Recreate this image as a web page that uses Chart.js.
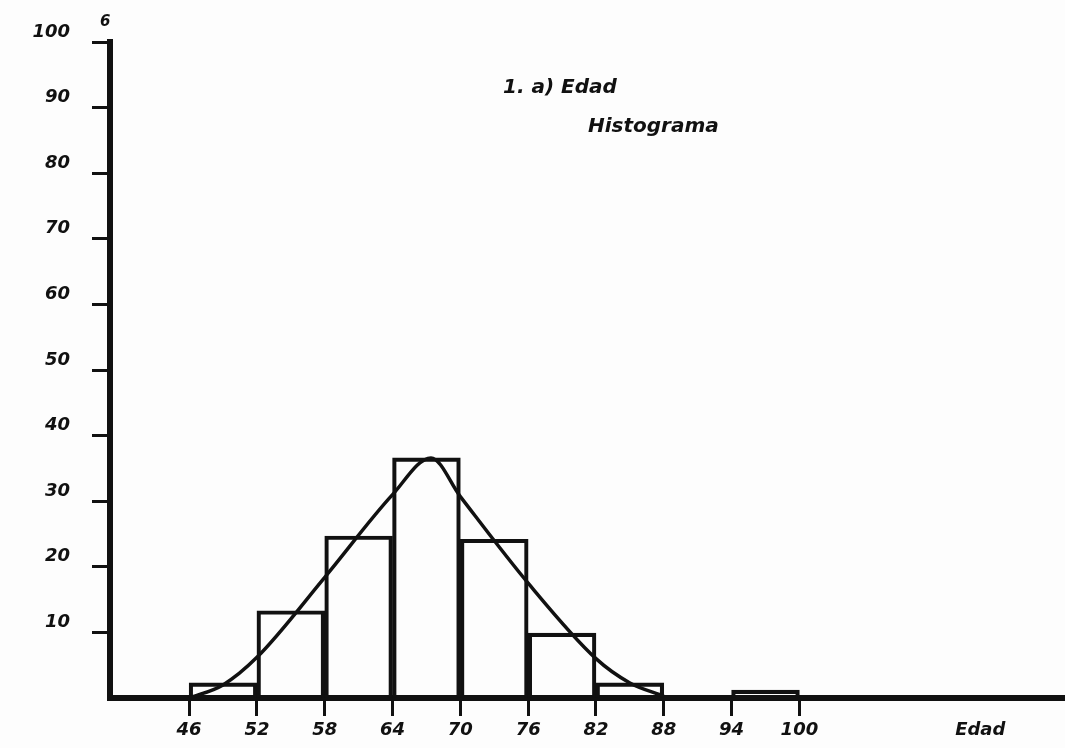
<!DOCTYPE html>
<html>
<head>
<meta charset="utf-8">
<script src="https://cdn.jsdelivr.net/npm/chart.js@4"></script>
<style>
  html, body { margin: 0; padding: 0; background: #fdfdfd; }
  #wrap { width: 1065px; height: 748px; }
</style>
</head>
<body>
<div id="wrap"><canvas id="hist"></canvas></div>
<script>
// histogram bins (class start, width 6) and frequencies
const binStarts = [46, 52, 58, 64, 70, 76, 82, 88, 94];
const frequencies = [2.3, 13.3, 24.7, 36.6, 24.2, 9.9, 2.3, null, 1.2];

// smooth curve drawn over the histogram
const curveX = [46, 49, 52, 58, 64, 67.4, 70, 76, 82, 85, 88];
const curveY = [0, 2, 6.2, 18.4, 31, 36.6, 30.7, 17.5, 6, 2.3, 0.3];

// axis labels
const xTickValues = [46, 52, 58, 64, 70, 76, 82, 88, 94, 100, 116];
const yTickValues = [10, 20, 30, 40, 50, 60, 70, 80, 90, 100];
const xAxisName = "Edad";
const titleLines = ["1. a) Edad", "Histograma"];

const ink = "#111";
const labelFont = { family: "DejaVu Sans", size: 18, weight: "bold", style: "italic" };

const ctx = document.getElementById("hist").getContext("2d");

const notes = {
  id: "notes",
  afterDraw(chart) {
    const c = chart.ctx;
    c.save();
    c.fillStyle = ink;
    c.font = "italic bold 20px 'DejaVu Sans'";
    c.textBaseline = "middle";
    c.fillText(titleLines[0], 503, 88);
    c.fillText(titleLines[1], 588, 127);
    c.font = "italic bold 15px 'DejaVu Sans'";
    c.fillText("6", 100, 22);
    c.restore();
  },
};

new Chart(ctx, {
  type: "bar",
  data: {
    datasets: [
      {
        type: "line",
        data: curveX.map((x, i) => ({ x: x, y: curveY[i] })),
        borderColor: ink,
        borderWidth: 3.5,
        pointRadius: 0,
        cubicInterpolationMode: "monotone",
        fill: false,
        order: 0,
      },
      {
        data: binStarts.map((s, i) => ({ x: s + 3, y: frequencies[i] })),
        backgroundColor: "rgba(0,0,0,0)",
        borderColor: ink,
        borderWidth: 3.5,
        barPercentage: 1,
        categoryPercentage: 1,
        order: 1,
      },
    ],
  },
  options: {
    responsive: true,
    maintainAspectRatio: false,
    animation: false,
    layout: { padding: { top: 42, right: 0, left: 0, bottom: 0 } },
    scales: {
      x: {
        type: "linear",
        min: 39,
        max: 123.5,
        offset: false,
        afterBuildTicks: (scale) => {
          scale.ticks = xTickValues.map((v) => ({ value: v }));
        },
        afterFit: (scale) => {
          scale.height = 50;
        },
        border: { display: true, color: ink, width: 6 },
        grid: {
          offset: false,
          drawOnChartArea: false,
          tickLength: 18,
          tickWidth: 3,
          tickColor: (c) => (c.tick && c.tick.value === 116 ? "rgba(0,0,0,0)" : ink),
        },
        ticks: {
          color: ink,
          font: labelFont,
          padding: 4,
          maxRotation: 0,
          autoSkip: false,
          callback: (v) => (v === 116 ? xAxisName : String(v)),
        },
      },
      y: {
        min: 0,
        max: 100,
        afterBuildTicks: (scale) => {
          scale.ticks = [0].concat(yTickValues).map((v) => ({ value: v }));
        },
        afterFit: (scale) => {
          scale.width = 110;
        },
        border: { display: true, color: ink, width: 6 },
        grid: {
          drawOnChartArea: false,
          tickLength: 18,
          tickWidth: 3,
          tickColor: (c) => (c.tick && c.tick.value === 0 ? "rgba(0,0,0,0)" : ink),
        },
        ticks: {
          color: ink,
          font: labelFont,
          padding: 22,
          labelOffset: -10,
          callback: (v) => (v === 0 ? "" : String(v)),
        },
      },
    },
    plugins: {
      legend: { display: false },
      tooltip: { enabled: false },
    },
  },
  plugins: [notes],
});
</script>
</body>
</html>
